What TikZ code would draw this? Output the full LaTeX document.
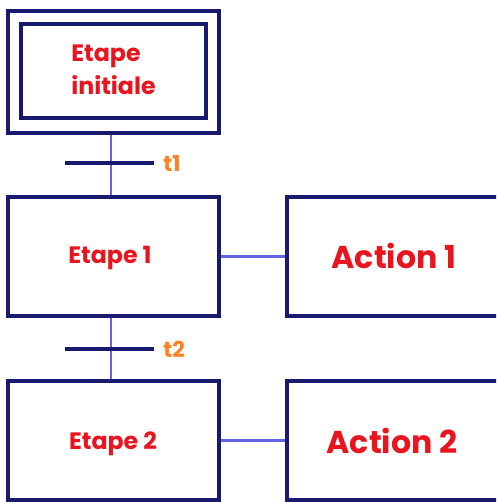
\documentclass[tikz,border=0pt]{standalone}
\usepackage{fontspec}
\newfontfamily\rf{Poppins}
\definecolor{navy}{RGB}{25,25,110}
\definecolor{lineblue}{RGB}{100,100,225}
\definecolor{txtred}{RGB}{232,20,30}
\definecolor{txtorange}{RGB}{255,128,32}
\tikzset{
  box/.style={draw=navy, line width=1.9pt, fill=white, inner sep=0pt, minimum width=4.22cm},
  stepname/.style={text=txtred, font=\rf\bfseries\fontsize{13.5}{16}\selectfont},
  actname/.style={text=txtred, font=\rf\bfseries\fontsize{18}{22}\selectfont},
  conn/.style={draw=lineblue, line width=1.4pt},
  bar/.style={draw=navy, line width=2.4pt},
  tlabel/.style={text=txtorange, font=\rf\bfseries\fontsize{12.5}{14}\selectfont, anchor=west, inner sep=0pt},
}
\begin{document}
\begin{tikzpicture}[x=0.02cm, y=-0.02cm]
\useasboundingbox (0,0) rectangle (496,502);
\clip (0,0) rectangle (496,502);
% vertical guide
\coordinate (v) at (111,0);
% initial step
\node[box, minimum height=2.44cm] (init) at (113.5,72) {};
\node[box, line width=2.4pt, minimum width=3.7cm, minimum height=1.88cm] (initin) at (113.5,71) {};
\node[stepname, align=left] (initt) at (113.5,70) {Etape\\[3pt]initiale};
% step 1 and 2
\node[box, minimum height=2.38cm] (e1) at (113.5,256.5) {};
\node[stepname] (e1t) at (110,258) {Etape 1};
\node[box, minimum height=2.38cm] (e2) at (113.5,440.5) {};
\node[stepname] (e2t) at (113,444) {Etape 2};
% actions
\node[box, minimum width=4.38cm, minimum height=2.38cm] (a1) at (396.5,256.5) {};
\node[actname] (a1t) at (394,256) {Action 1};
\node[box, minimum width=4.38cm, minimum height=2.38cm] (a2) at (396.5,440.5) {};
\node[actname] (a2t) at (392,441) {Action 2};
% links
\draw[conn] (init.south -| v) -- (e1.north -| v);
\draw[conn] (e1.south -| v) -- (e2.north -| v);
\draw[conn] (e1.east) -- (a1.west);
\draw[conn] (e2.east) -- (a2.west);
% transitions
\coordinate (t1l) at (65,163);
\coordinate (t1r) at (154,163);
\draw[bar] (t1l) -- (t1r);
\node[tlabel] (t1) at (163,163) {t1};
\coordinate (t2l) at (65,349);
\coordinate (t2r) at (154,349);
\draw[bar] (t2l) -- (t2r);
\node[tlabel] (t2) at (163,349) {t2};
\end{tikzpicture}
\end{document}
